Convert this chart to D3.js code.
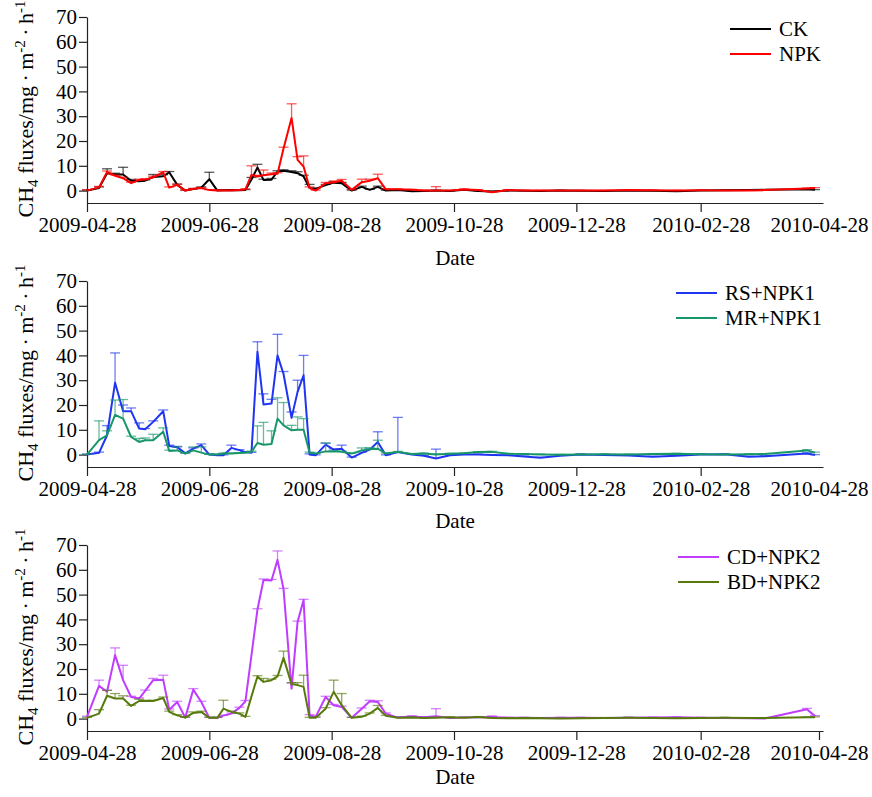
<!DOCTYPE html>
<html>
<head>
<meta charset="utf-8">
<script src="https://cdn.jsdelivr.net/npm/d3@7"></script>
<style>
  body { margin: 0; background: #fff; }
</style>
</head>
<body>
<svg id="chart" width="872" height="797"></svg>
<script>
// sampling dates (shared by all treatments)
const dates = [
  '2009-04-28','2009-05-04','2009-05-08','2009-05-12','2009-05-16','2009-05-20','2009-05-24','2009-05-27','2009-05-31','2009-06-05',
  '2009-06-08','2009-06-12','2009-06-16','2009-06-20','2009-06-24','2009-06-28','2009-07-02','2009-07-05','2009-07-09','2009-07-13',
  '2009-07-16','2009-07-19','2009-07-22','2009-07-25','2009-07-29','2009-08-01','2009-08-04','2009-08-08','2009-08-11','2009-08-14',
  '2009-08-17','2009-08-20','2009-08-25','2009-08-29','2009-09-02','2009-09-07','2009-09-12','2009-09-16','2009-09-20','2009-09-24',
  '2009-09-30','2009-10-07','2009-10-13','2009-10-19','2009-10-26','2009-11-02','2009-11-09','2009-11-16','2009-11-24','2009-12-02',
  '2009-12-10','2009-12-20','2009-12-30','2010-01-11','2010-01-23','2010-02-04','2010-02-16','2010-02-28','2010-03-12','2010-03-24',
  '2010-04-01','2010-04-22','2010-04-26'
];

const xTickLabels = ['2009-04-28','2009-06-28','2009-08-28','2009-10-28','2009-12-28','2010-02-28','2010-04-28'];
const yTicks = [0, 10, 20, 30, 40, 50, 60, 70];

// CH4 flux means and standard errors, mg m-2 h-1 (null = not sampled)
const ckValues = [
  0, 1, 7, 6.5, 6.5, 4, 3.8, 4, 5.5, 5.8,
  7.4, 2.3, 0, 0.6, 1.2, 4.6, 0, 0.1, 0.2, 0.1,
  0.2, 4.5, 9.3, 4.3, 4.4, 7.7, 8, 7.5, 7, 5.7,
  1, 0.7, 2.2, 3.2, 3, 0, 1.5, 0.3, 1.5, 0,
  0.2, -0.3, -0.2, 0, -0.2, 0.3, -0.2, -0.4, 0, -0.1,
  -0.2, 0, -0.1, -0.2, 0, -0.1, -0.3, 0, 0.1, 0.2,
  0.3, 0.5, 0.3
];
const ckErrors = [
  0.3, 0.5, 1.8, 0.5, 2.9, 0.5, 0.4, 0.3, 1.0, 0.6,
  0.3, 0.3, 0.2, 0.2, 0.3, 2.8, 0.2, 0.1, 0.1, 0.1,
  0.2, 0.8, 1.3, 0.3, 0.5, 0.3, 0.4, 0.5, 0.6, 0.5,
  1.5, 0.3, 0.3, 0.4, 0.3, 0.2, 0.3, 0.2, 0.3, 0.2,
  0.1, 0.1, 0.1, 0.1, 0.1, 0.1, 0.1, 0.1, 0.1, 0.1,
  0.1, 0.1, 0.1, 0.1, 0.1, 0.1, 0.1, 0.1, 0.1, 0.1,
  0.1, 0.2, 0.1
];
const npkValues = [
  0, 1.3, 7.5, 6, 5, 3, 4.3, 4.5, 5.3, 7.4,
  1.2, 2.3, 0, 0.7, 1, 0.2, 0, 0, 0, 0.2,
  0.5, 6.3, 5.7, 6.2, 6.6, 6.8, 17, 29.3, 12.4, 9.7,
  1, 0, 3, 3.4, 4, 0.3, 3.4, 4, 5, 0.5,
  0.5, 0.3, 0, 0, 0, 0.4, 0.2, -0.7, 0.2, 0,
  0, 0, 0, 0, 0.2, 0.1, 0, 0.1, 0, 0,
  0.2, 0.8, 1
];
const npkErrors = [
  0.3, 0.4, 0.4, 0.3, 0.4, 0.4, 0.3, 0.3, 0.5, 0.3,
  0.3, 0.3, 0.2, 0.2, 0.2, 0.2, 0.1, 0.1, 0.1, 0.1,
  0.2, 3.7, 0.5, 2.1, 0.5, 0.4, 0.5, 5.7, 1.3, 4.3,
  0.5, 0.2, 0.3, 0.5, 0.5, 0.2, 1.2, 0.6, 1.6, 0.2,
  0.2, 0.2, 0.2, 1.6, 0.1, 0.3, 0.2, 0.2, 0.2, 0.1,
  0.1, 0.1, 0.1, 0.1, 0.1, 0.1, 0.1, 0.1, 0.1, 0.1,
  0.1, 0.3, 0.2
];
const rsValues = [
  0, 0.7, 7.8, 29, 17.5, 17.5, 10.5, 10.2, 13.2, 17.5,
  3.5, 3, 0.5, 2.4, 3.8, 0, -0.3, -0.3, 2.7, 1.8,
  1, 0.7, 41.5, 20.2, 20.6, 40, 32.5, 14.8, 25.3, 32,
  0, -0.3, 4, 2, 2.4, -1.2, 0.7, 2, 5.1, -0.3,
  1, 0, -0.5, -1.6, -0.3, 0, 0, -0.2, -0.3, -0.8,
  -1.3, -0.5, 0, -0.2, -0.4, -0.9, -0.5, 0, 0.1, -0.9,
  -0.7, 0.4, -0.2
];
const rsErrors = [
  0.2, 0.3, 3.9, 12, 2.5, 1.3, 2.3, 0.3, 0.4, 0.5,
  0.3, 0.3, 0.2, 0.3, 0.5, 0.2, 0.2, 0.2, 1.1, 0.2,
  0.2, 0.2, 4, 4.3, 1.7, 8.5, 1, 2.4, 4.7, 8,
  0.3, 0.2, 0.6, 0.3, 1.4, 0.2, 0.3, 0.3, 4.1, 0.2,
  14, 0.2, 0.2, 3.8, 0.2, 0.2, 0.2, 0.2, 0.2, 0.2,
  0.2, 0.2, 0.2, 0.2, 0.2, 0.2, 0.2, 0.2, 0.2, 0.2,
  0.2, 0.3, 0.2
];
const mrValues = [
  0, 5.8, 7.8, 16, 14.5, 7.1, 5.1, 5.8, 5.8, 9.2,
  1.5, 1.7, 0.4, 1.7, 0.8, 0, 0, 0.4, 0.4, 0.6,
  0.7, 1.1, 4.7, 4, 4.3, 14.5, 11.8, 9.8, 10, 10,
  0.7, 0.4, 1.3, 1.3, 1.1, 0.4, 1.7, 2.2, 2.4, 0.4,
  1.1, 0.2, 0.4, 0, 0.3, 0.5, 1, 1.1, 0.3, 0.2,
  0, -0.1, 0, 0.1, 0, 0.2, 0.3, 0.1, 0, 0.1,
  0.2, 1.7, 0.8
];
const mrErrors = [
  0.2, 7.8, 1.8, 6, 7.7, 0.3, 1.4, 0.9, 2.4, 1.6,
  0.3, 1.4, 0.2, 1.4, 2.3, 0.2, 0.2, 0.2, 0.2, 0.2,
  0.2, 0.3, 6.9, 9, 5.3, 8.4, 9.2, 2, 5.2, 4.5,
  0.3, 0.2, 3.4, 0.3, 0.3, 0.2, 1, 0.6, 3.4, 0.2,
  0.2, 0.2, 0.2, 0.2, 0.2, 0.2, 0.2, 0.2, 0.2, 0.2,
  0.2, 0.2, 0.2, 0.2, 0.2, 0.2, 0.2, 0.2, 0.2, 0.2,
  0.2, 0.3, 0.2
];
const cdValues = [
  0.7, 13.2, 10.8, 25.6, 15.5, 8.7, 8.1, 11.2, 15.5, 15.7,
  3.6, 6.7, 0.4, 11.7, 6.7, 0.3, 0.3, 1.2, 2, 4.3,
  7, null, 44, 55.9, 55.7, 64, 52.2, 12.1, 39, 47.8,
  1.3, 0.7, 8.7, 5.4, 4.7, 0.3, 4, 7, 6.7, 2,
  0.4, 0.8, 0.5, 1, 0.2, 0.4, 0.5, 0.6, 0.3, 0.3,
  0.2, 0.3, 0.3, 0.2, 0.3, 0.4, 0.5, 0.3, 0.2, 0.1,
  0, 3.8, 1
];
const cdErrors = [
  0.3, 2.3, 0.6, 2.9, 6, 0.3, 0.3, 0.3, 0.7, 1.8,
  0.3, 0.3, 0.2, 0.4, 0.3, 0.2, 0.2, 0.2, 0.2, 0.3,
  0.3, null, 0.3, 0.4, 0.4, 3.6, 0.3, 2.4, 0.3, 0.3,
  0.3, 0.3, 0.3, 0.3, 0.3, 0.2, 0.3, 0.4, 0.5, 0.3,
  0.3, 0.3, 0.2, 3, 0.2, 0.2, 0.2, 0.5, 0.2, 0.2,
  0.2, 0.2, 0.2, 0.2, 0.2, 0.2, 0.2, 0.2, 0.2, 0.2,
  0.2, 0.3, 0.2
];
const bdValues = [
  0.3, 2, 9.2, 8.1, 8.1, 5.1, 7.1, 7.1, 7.1, 8.3,
  2.7, 1.3, 0.4, 2.3, 2.7, 0.3, 0.3, 4, 2.7, 2,
  0.7, null, 17, 14.8, 15.5, 17, 24.5, 13.9, 13.5, 12.8,
  0.3, 0.3, 4, 10.8, 5.4, 0.3, 0.7, 2, 4.3, 1.1,
  0.3, 0.4, 0.2, 0.3, 0.5, 0.3, 0.6, 0.2, 0.1, 0.2,
  0.1, 0, 0.1, 0.2, 0.3, 0.2, 0.1, 0.2, 0.3, 0.2,
  0.2, 0.5, 0.5
];
const bdErrors = [
  0.2, 1.6, 2.2, 2, 1.1, 0.3, 0.7, 0.3, 0.3, 0.4,
  0.3, 0.3, 0.2, 0.4, 0.3, 0.2, 0.2, 3.4, 0.3, 0.3,
  0.2, null, 0.3, 1.4, 0.4, 0.4, 2.7, 0.5, 1, 4.7,
  0.2, 0.2, 0.4, 4.7, 4.7, 0.2, 0.3, 0.3, 1, 0.2,
  0.2, 0.2, 0.2, 0.2, 0.2, 0.2, 0.2, 0.2, 0.2, 0.2,
  0.2, 0.2, 0.2, 0.2, 0.2, 0.2, 0.2, 0.2, 0.2, 0.2,
  0.2, 0.2, 0.2
];

const panels = [
  {
    top: 17, dateGap: 62, legendX: 730, lastTick: false,
    series: [
      { name: 'CK', color: '#000000', values: ckValues, errors: ckErrors },
      { name: 'NPK', color: '#ff0000', values: npkValues, errors: npkErrors },
    ],
  },
  {
    top: 281, dateGap: 61, legendX: 676, lastTick: false,
    series: [
      { name: 'RS+NPK1', color: '#1f35f2', values: rsValues, errors: rsErrors },
      { name: 'MR+NPK1', color: '#179768', values: mrValues, errors: mrErrors },
    ],
  },
  {
    top: 545, dateGap: 53, legendX: 678, lastTick: true,
    series: [
      { name: 'CD+NPK2', color: '#c03cff', values: cdValues, errors: cdErrors },
      { name: 'BD+NPK2', color: '#587a0c', values: bdValues, errors: bdErrors },
    ],
  },
];

const FONT = '"Liberation Serif", "Times New Roman", serif';
const parseDate = d3.timeParse('%Y-%m-%d');
const svg = d3.select('#chart');
const left = 87, right = 823, plotH = 186;

const x = d3.scaleTime()
  .domain([parseDate('2009-04-28'), parseDate('2010-04-30')])
  .range([left, right]);

panels.forEach((panel) => {
  const g = svg.append('g').attr('font-family', FONT);
  const y = d3.scaleLinear().domain([-5, 70]).range([panel.top + plotH, panel.top]);
  const axisY = y(-5);

  // x axis
  const xAxis = g.append('g')
    .attr('transform', `translate(0,${axisY})`)
    .call(d3.axisBottom(x)
      .tickValues(xTickLabels.map(parseDate))
      .tickFormat(d3.timeFormat('%Y-%m-%d'))
      .tickSize(9).tickSizeOuter(0).tickPadding(5));
  if (!panel.lastTick) {
    xAxis.selectAll('.tick:last-of-type line').remove();
  }

  // y axis
  const yAxis = g.append('g')
    .attr('transform', `translate(${left},0)`)
    .call(d3.axisLeft(y).tickValues(yTicks).tickSize(8).tickSizeOuter(0).tickPadding(2));

  [xAxis, yAxis].forEach((ax) => ax.attr('font-family', FONT).attr('font-size', 21));
  g.selectAll('.domain, .tick line').attr('stroke', '#222').attr('stroke-width', 1.2);
  g.selectAll('.tick text').attr('fill', '#000');

  // axis titles
  g.append('text')
    .attr('x', (left + right) / 2)
    .attr('y', axisY + panel.dateGap)
    .attr('text-anchor', 'middle')
    .attr('font-size', 21)
    .text('Date');

  const ylab = g.append('text')
    .attr('transform', `translate(33,${(y(70) + y(-5)) / 2 - 1}) rotate(-90)`)
    .attr('text-anchor', 'middle')
    .attr('font-size', 22);
  ylab.append('tspan').text('CH');
  ylab.append('tspan').attr('dy', 5).attr('font-size', 15).text('4');
  ylab.append('tspan').attr('dy', -5).text('\u00a0fluxes/mg\u2009\u00b7\u2009m');
  ylab.append('tspan').attr('dy', -8).attr('font-size', 15).text('-2');
  ylab.append('tspan').attr('dy', 8).text('\u2009\u00b7\u2009h');
  ylab.append('tspan').attr('dy', -8).attr('font-size', 15).text('-1');

  // series
  panel.series.forEach((s, si) => {
    const pts = dates
      .map((d, i) => ({ date: parseDate(d), v: s.values[i], e: s.errors[i] }))
      .filter((p) => p.v !== null);

    const eb = g.append('g')
      .attr('stroke', s.color)
      .attr('stroke-opacity', 0.65)
      .attr('stroke-width', 1.3)
      .attr('fill', 'none');
    eb.selectAll('line.bar')
      .data(pts)
      .join('line')
      .attr('class', 'bar')
      .attr('x1', (p) => x(p.date)).attr('x2', (p) => x(p.date))
      .attr('y1', (p) => y(p.v)).attr('y2', (p) => y(p.v + p.e));
    eb.selectAll('line.cap')
      .data(pts)
      .join('line')
      .attr('class', 'cap')
      .attr('x1', (p) => x(p.date) - 5).attr('x2', (p) => x(p.date) + 5)
      .attr('y1', (p) => y(p.v + p.e)).attr('y2', (p) => y(p.v + p.e));

    g.append('path')
      .datum(pts)
      .attr('fill', 'none')
      .attr('stroke', s.color)
      .attr('stroke-width', 2)
      .attr('stroke-linejoin', 'round')
      .attr('d', d3.line().x((p) => x(p.date)).y((p) => y(p.v)));

    // legend
    const ly = panel.top + 12 + si * 25;
    g.append('line')
      .attr('x1', panel.legendX).attr('x2', panel.legendX + 41)
      .attr('y1', ly).attr('y2', ly)
      .attr('stroke', s.color).attr('stroke-width', 2);
    g.append('text')
      .attr('x', panel.legendX + 49)
      .attr('y', ly)
      .attr('dy', '0.35em')
      .attr('font-size', 21)
      .text(s.name);
  });
});
</script>
</body>
</html>
